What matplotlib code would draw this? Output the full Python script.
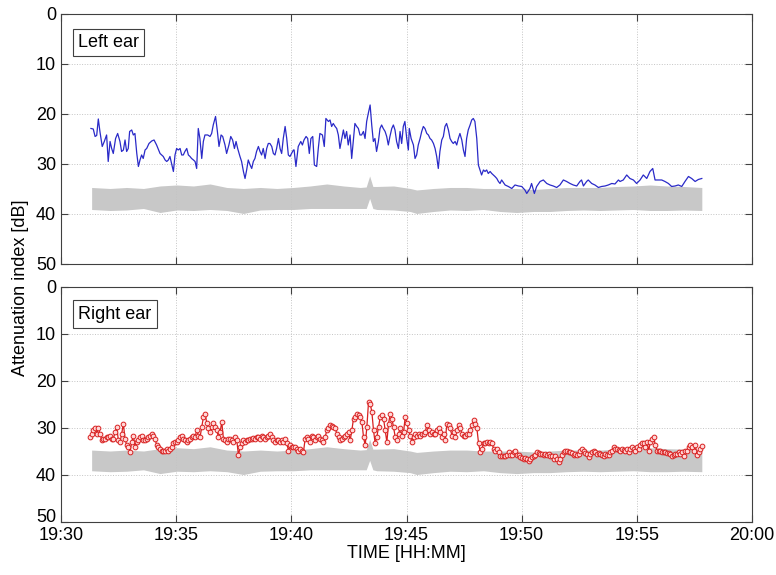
import numpy as np
import matplotlib
matplotlib.use('Agg')
import matplotlib.pyplot as plt
from matplotlib.ticker import FuncFormatter, MultipleLocator

plt.rcParams['font.family'] = ['Liberation Sans', 'DejaVu Sans']
plt.rcParams['font.size'] = 13

# Left ear: time in minutes after 19:30, attenuation index [dB]
t_left = [1.30, 1.40, 1.48, 1.55, 1.62, 1.69, 1.79, 1.88, 1.98, 2.05, 2.13, 2.20, 2.27, 2.37, 2.46,
          2.56, 2.63, 2.71, 2.78, 2.85, 2.92, 2.98, 3.07, 3.14, 3.21, 3.29, 3.36, 3.43, 3.50, 3.57,
          3.65, 3.72, 3.82, 3.94, 4.04, 4.15, 4.30, 4.44, 4.52, 4.59, 4.66, 4.73, 4.80, 4.88, 4.95,
          5.02, 5.09, 5.17, 5.24, 5.31, 5.38, 5.46, 5.53, 5.60, 5.67, 5.75, 5.82, 5.89, 5.96, 6.03,
          6.11, 6.18, 6.25, 6.37, 6.47, 6.54, 6.61, 6.71, 6.79, 6.86, 6.95, 7.02, 7.12, 7.19, 7.29,
          7.37, 7.45, 7.53, 7.60, 7.67, 7.77, 7.84, 7.92, 7.99, 8.06, 8.13, 8.21, 8.28, 8.35, 8.42,
          8.49, 8.57, 8.64, 8.71, 8.78, 8.86, 8.93, 9.00, 9.07, 9.15, 9.22, 9.29, 9.36, 9.44, 9.51,
          9.58, 9.65, 9.73, 9.80, 9.87, 9.94, 10.01, 10.09,
          10.12, 10.20, 10.30, 10.41, 10.48, 10.55, 10.64, 10.71, 10.78, 10.85, 10.93, 11.00, 11.10,
          11.17, 11.24, 11.35, 11.43, 11.50, 11.61, 11.68, 11.75, 11.82, 11.90, 11.97, 12.04, 12.11,
          12.19, 12.26, 12.33, 12.40, 12.47, 12.55, 12.62, 12.69, 12.76, 12.84, 12.91, 12.98, 13.05,
          13.13, 13.20, 13.27, 13.34, 13.42, 13.49, 13.56, 13.63, 13.70, 13.78, 13.85, 13.92, 13.99,
          14.07, 14.14, 14.21, 14.28, 14.36, 14.43, 14.50, 14.57, 14.65, 14.72, 14.79, 14.86, 14.93,
          15.01, 15.08, 15.12, 15.20, 15.30, 15.37, 15.44, 15.51, 15.59, 15.66, 15.73, 15.80, 15.88,
          15.95, 16.02, 16.09, 16.17, 16.24, 16.31, 16.38, 16.45, 16.53, 16.60, 16.67, 16.74, 16.82,
          16.89, 16.96, 17.03, 17.11, 17.18, 17.25, 17.32, 17.40, 17.47, 17.54, 17.61, 17.68, 17.76,
          17.83, 17.90, 17.97, 18.05, 18.12, 18.19, 18.26, 18.34, 18.41, 18.48, 18.55, 18.63, 18.70,
          18.77, 18.84, 18.92, 18.99, 19.06,
          19.13, 19.28, 19.42, 19.57, 19.71, 19.86, 20.00, 20.14, 20.22, 20.36, 20.43, 20.55, 20.65,
          20.80, 20.94, 21.09, 21.23, 21.37, 21.52, 21.66, 21.81, 21.95, 22.10, 22.24, 22.39, 22.53,
          22.60, 22.68, 22.82, 22.89, 23.04, 23.18, 23.33, 23.47, 23.62, 23.76, 23.91, 24.05, 24.20,
          24.27, 24.41, 24.56, 24.70, 24.85, 24.99, 25.14, 25.28, 25.43, 25.57, 25.69, 25.79, 25.93,
          26.08, 26.22, 26.37, 26.51, 26.66, 26.80, 26.95, 27.09, 27.24, 27.38, 27.53, 27.67, 27.82]
v_left = [22.9, 23.0, 24.5, 24.3, 21.0, 23.5, 26.5, 25.5, 24.2, 29.5, 25.5, 26.9, 27.9, 24.9, 23.9,
          25.5, 27.5, 27.2, 25.2, 27.5, 26.9, 23.5, 23.2, 24.2, 23.9, 27.9, 30.5, 29.2, 28.2, 28.9,
          27.2, 26.9, 25.9, 25.4, 25.2, 26.2, 27.9, 28.5, 29.2, 29.5, 29.2, 28.5, 29.9, 31.5, 28.2,
          26.9, 27.2, 26.9, 28.2, 28.2, 27.5, 26.9, 28.2, 28.5, 28.9, 29.2, 29.5, 30.9, 22.9, 24.9,
          28.9, 25.5, 24.2, 24.2, 24.5, 23.9, 22.2, 20.5, 23.5, 26.5, 24.2, 24.5, 26.2, 27.9, 26.2,
          24.5, 25.2, 26.9, 25.5, 26.9, 28.5, 29.5, 31.5, 32.9, 31.2, 29.2, 30.2, 30.9, 29.5, 28.9,
          27.5, 26.5, 27.5, 28.2, 26.9, 28.9, 26.9, 25.9, 25.9, 26.5, 27.9, 28.2, 26.9, 24.9, 26.9,
          27.9, 24.9, 22.5, 24.9, 28.2, 28.5, 27.9, 27.2,
          27.2, 30.5, 26.5, 25.5, 26.2, 25.2, 24.5, 24.9, 27.9, 24.9, 24.5, 30.2, 30.5,
          26.9, 23.9, 24.2, 26.5, 20.9, 21.5, 21.2, 22.5, 21.9, 22.5, 22.9, 24.2, 26.9,
          24.9, 23.2, 24.9, 23.5, 26.2, 24.2, 28.9, 25.5, 21.9, 22.5, 22.9, 24.2, 24.2,
          23.5, 24.9, 21.5, 19.9, 18.2, 22.2, 25.5, 24.9, 27.5, 25.5, 22.9, 22.2, 22.9,
          23.5, 24.5, 26.2, 24.5, 22.9, 22.2, 23.2, 25.5, 26.9, 23.5, 25.9, 22.5, 21.5,
          24.9, 27.2, 22.9, 24.9, 26.2, 28.9, 28.2, 26.2, 24.9, 23.5, 22.5, 22.9, 23.9,
          24.2, 24.9, 25.2, 25.9, 26.9, 28.5, 30.9, 27.5, 25.2, 24.5, 22.5, 21.9, 23.2,
          24.9, 25.5, 25.9, 25.5, 26.2, 24.9, 23.9, 25.2, 27.2, 28.5, 24.9, 23.2, 22.2,
          21.2, 20.9, 21.5, 24.9, 30.2, 31.2, 32.2, 31.2, 31.5, 31.2, 31.9, 31.5, 31.9,
          32.2, 32.5, 32.9, 33.5, 33.9,
          33.2, 34.2, 34.5, 34.9, 34.2, 34.4, 34.5, 35.2, 35.9, 34.9, 33.9, 35.9, 34.5,
          33.5, 33.2, 33.9, 34.2, 34.4, 34.7, 34.2, 33.2, 33.5, 33.9, 34.2, 34.4, 33.5,
          33.2, 34.4, 33.5, 33.2, 33.9, 34.2, 34.7, 34.5, 34.4, 34.2, 33.9, 34.0, 33.2,
          33.5, 33.2, 32.2, 32.9, 33.2, 33.9, 33.2, 32.2, 32.9, 31.5, 30.9, 33.2, 33.2,
          33.2, 33.5, 33.9, 34.5, 34.4, 34.2, 34.5, 33.5, 32.5, 32.9, 33.5, 33.1, 32.9]

# Right ear: sampled every ~4.3 s starting at 19:31:16
t0_right = 1.26
dt_right = 0.0724
v_right = [31.9, 31.2, 30.5, 30.1, 31.2, 30.1, 31.2, 32.6, 32.3, 32.3, 31.9, 31.9, 31.6, 32.3, 32.3,
           30.9, 29.8, 32.6, 33.0, 31.2, 29.1, 32.3, 33.7, 34.0, 35.1, 33.0, 31.6, 34.0, 33.0, 32.6,
           31.9, 31.6, 32.6, 32.6, 32.3, 31.9, 31.6, 31.2, 31.6, 32.3, 33.7, 34.0, 34.4, 34.8, 34.8,
           34.8, 34.4, 34.8, 34.4, 34.0, 33.3, 33.0, 33.0, 32.6, 31.9, 31.6, 32.3, 32.6, 33.0, 32.6,
           32.3, 31.9, 31.6, 31.9, 30.5, 31.6, 31.9, 29.8, 27.7, 27.0, 28.9, 30.1, 30.9, 29.8, 28.9,
           29.8, 30.5, 31.9, 30.9, 28.7, 32.3, 32.6, 33.0, 32.3, 32.3, 32.6, 33.0, 31.9, 32.6, 35.8,
           34.0, 33.3, 32.6, 33.0, 32.6, 32.6, 32.3, 32.3, 32.1, 32.3, 31.9, 31.9, 32.3, 31.6, 31.9,
           32.3, 31.9, 31.6, 31.2, 31.9, 32.6, 33.0, 32.6, 32.6, 33.0, 32.6, 33.0, 32.3, 33.3, 34.8,
           33.7, 34.0, 34.0, 34.0, 34.4, 34.8, 34.4, 34.8, 35.1, 32.3, 31.9, 32.3, 33.0, 31.6, 31.9,
           32.6, 31.9, 31.6, 32.3, 32.6, 33.0, 31.9, 30.5, 30.1, 29.4, 29.6, 29.8, 30.1, 31.2, 31.9,
           32.6, 32.3, 31.9, 31.6, 31.2, 30.9, 32.6, 30.5, 28.0, 27.7, 27.0, 27.3, 27.7, 28.7, 31.9,
           33.7, 29.8, 24.5, 24.8, 26.6, 30.5, 33.3, 31.9, 29.8, 27.7, 27.3, 28.0, 30.5, 33.0, 29.1,
           27.0, 28.0, 29.8, 31.9, 32.6, 31.2, 30.1, 31.6, 30.9, 27.7, 28.9, 30.5, 31.6, 33.0, 31.9,
           31.2, 31.6,
           31.2, 31.6, 31.2, 31.2, 30.9, 29.4, 30.5, 31.2, 30.9, 31.2, 31.2, 30.5, 30.1, 30.9, 31.9,
           31.2, 32.6, 29.1, 29.4, 30.1, 31.6, 30.9, 31.9, 30.5, 29.4, 30.1, 31.2, 31.6, 31.6, 31.2,
           31.2, 30.5, 29.4, 28.4, 29.1, 30.1, 33.3, 35.1, 34.4, 33.3, 33.3, 33.0, 33.3, 33.0, 33.2,
           34.4, 34.8, 34.4, 35.1, 36.0, 36.0, 36.0, 35.9, 35.7, 35.1, 35.8, 35.7, 35.1, 34.8, 35.8,
           35.8, 36.2, 36.3, 36.5, 36.3, 36.7, 37.0, 36.5, 36.2, 36.0, 35.8, 35.1, 35.3, 35.5, 35.6,
           35.8, 35.6, 35.8, 35.6, 36.0, 36.0, 36.5, 36.0, 36.5, 37.2, 36.5, 35.8, 35.1, 34.8, 34.9,
           35.1, 35.1, 35.3, 35.8, 35.5, 35.8, 35.5, 34.8, 34.4, 34.8, 35.3, 35.5, 36.2, 35.5, 35.1,
           34.9, 35.1, 35.5, 35.3, 35.6, 35.8, 36.0, 35.5, 35.8, 35.8, 35.1, 34.8, 34.0, 34.4, 34.4,
           34.6, 34.8, 34.4, 34.6, 34.8, 34.4, 35.1, 34.4, 34.0, 34.4, 34.8, 34.0, 34.4, 33.7, 33.2,
           33.3, 34.0, 33.0, 34.8, 33.0, 32.3, 31.9, 33.7, 34.8, 34.9, 34.9, 35.1, 35.1, 35.1, 35.3,
           35.3, 35.6, 36.0, 35.8, 35.6, 35.5, 35.1, 35.6, 35.1, 36.0, 34.9, 34.8, 34.0, 33.7, 34.0,
           34.8, 33.7, 35.8, 35.1, 34.4, 33.9]
t_right = t0_right + dt_right * np.arange(len(v_right))

# Reference band (same in both panels)
t_band = [1.33, 2.13, 2.85, 3.58, 4.30, 5.03, 5.75, 6.47, 7.20, 7.92, 8.65, 9.37, 10.09, 10.82,
          11.54, 12.27, 12.99, 13.25, 13.40, 13.54, 13.71, 14.44, 15.16, 15.44, 16.17, 16.89, 17.61,
          18.34, 19.06, 19.78, 20.51, 21.23, 21.95, 22.68, 23.40, 24.12, 24.85, 25.57, 26.30, 27.02,
          27.82]
band_top = [34.7, 34.9, 34.7, 34.9, 34.4, 34.2, 34.4, 34.0, 34.7, 34.9, 34.7, 34.9, 34.7, 34.4,
            34.0, 34.4, 34.7, 34.6, 32.4, 34.5, 34.5, 34.4, 34.9, 35.2, 34.9, 34.7, 34.7,
            34.9, 34.9, 34.9, 35.1, 34.9, 34.7, 34.7, 34.7, 34.5, 34.4, 34.2, 34.4, 34.5,
            34.7]
band_bot = [39.1, 39.3, 39.2, 38.9, 39.7, 39.2, 39.3, 39.1, 39.3, 39.9, 39.2, 39.1, 39.1, 38.9,
            38.9, 38.9, 38.9, 38.9, 36.9, 38.9, 39.1, 39.2, 39.5, 39.9, 39.5, 39.2, 39.3,
            39.1, 39.5, 39.7, 39.5, 39.5, 39.3, 39.2, 39.3, 39.2, 39.1, 39.3, 39.3, 39.2,
            39.3]

fig = plt.figure(figsize=(7.76, 5.75), dpi=100)
ax1 = fig.add_axes([0.0786, 0.5409, 0.8905, 0.4348])
ax2 = fig.add_axes([0.0786, 0.0922, 0.8905, 0.4087])


def fmt_time(x, pos):
    m = int(round(x)) + 30
    return '%d:%02d' % (19 + m // 60, m % 60)


for ax, label in [(ax1, 'Left ear'), (ax2, 'Right ear')]:
    ax.fill_between(t_band, band_top, band_bot, color='#c8c8c8', lw=0)
    ax.set_xlim(0, 30)
    ax.set_ylim(50, 0)
    ax.xaxis.set_major_locator(MultipleLocator(5))
    ax.yaxis.set_major_locator(MultipleLocator(10))
    ax.grid(True, linestyle=':', color='#c4c4c4', lw=0.7)
    ax.tick_params(direction='in', length=5, top=True, right=True, colors='#404040',
                   labelcolor='black', labelsize=13)
    for s in ax.spines.values():
        s.set_color('#404040')
    ax.text(0.025, 0.885, label, transform=ax.transAxes, va='center', ha='left', fontsize=13,
            bbox=dict(facecolor='white', edgecolor='#404040', boxstyle='square,pad=0.28', lw=0.8))

ax1.plot(t_left, v_left, color='#2a2ac8', lw=0.9)
ax1.set_xticklabels([])

ax2.plot(t_right, v_right, color='#d82020', lw=0.9, marker='o', markersize=3.4,
         markerfacecolor='#ffd8d8', markeredgecolor='#d82020', markeredgewidth=0.7)
ax2.xaxis.set_major_formatter(FuncFormatter(fmt_time))
ax2.set_xlabel('TIME [HH:MM]', fontsize=13, labelpad=1)

fig.text(0.026, 0.5, 'Attenuation index [dB]', rotation=90, va='center', ha='center', fontsize=13)

# bottom "50" sits on the axis line, just above the time labels
fig.canvas.draw()
for tk in ax2.yaxis.get_major_ticks():
    if abs(tk.get_loc() - 50) < 1e-6:
        tk.label1.set_verticalalignment('baseline')

fig.savefig('out.png', dpi=100)
